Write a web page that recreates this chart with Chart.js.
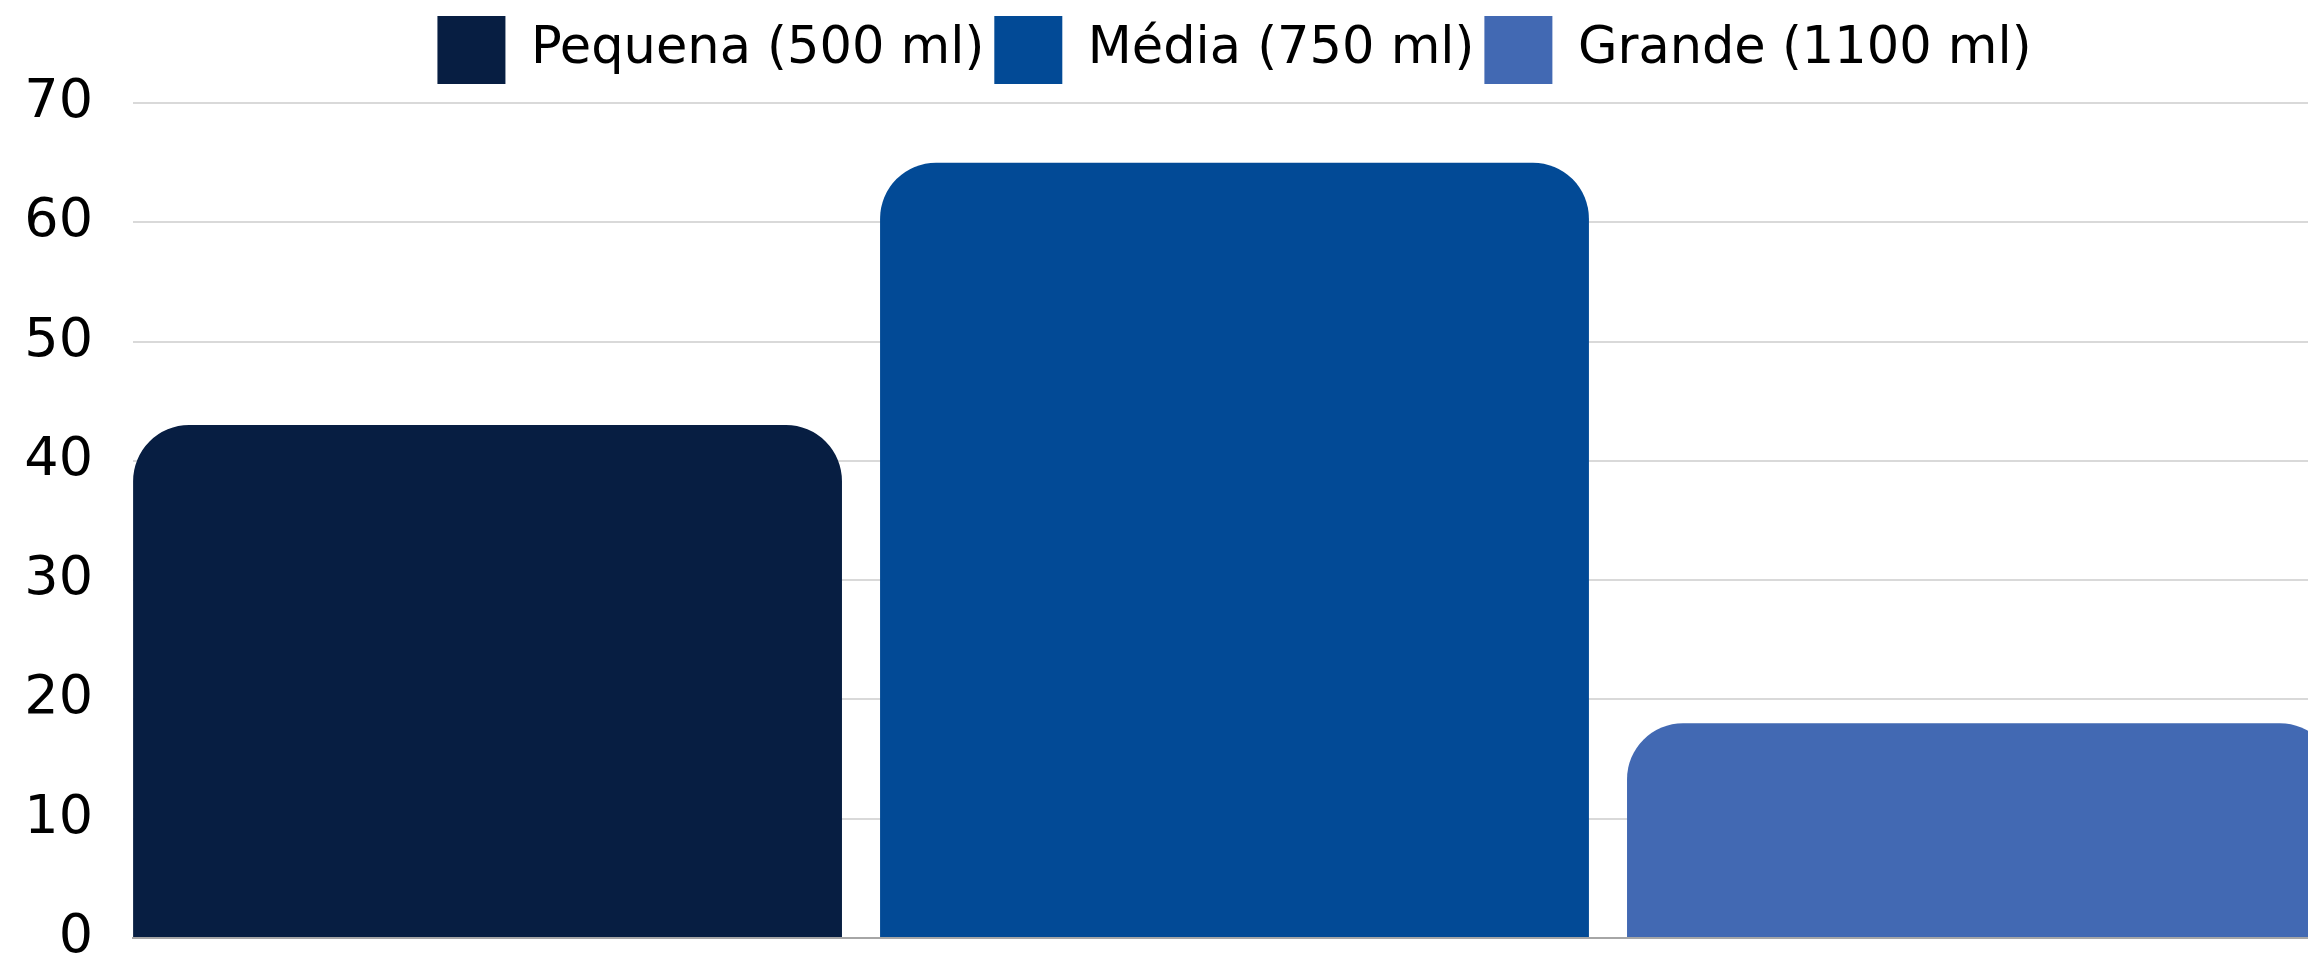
<!DOCTYPE html>
<html>
<head>
<meta charset="utf-8">
<script src="https://cdn.jsdelivr.net/npm/chart.js@4"></script>
<style>
  html, body { margin: 0; padding: 0; background: #fff; overflow: hidden; }
  #wrap { position: relative; width: 2336px; height: 960px; }
</style>
</head>
<body>
<div id="wrap"><canvas id="c"></canvas></div>
<script>
const categories = [''];
const seriesNames = ['Pequena (500 ml)', 'Média (750 ml)', 'Grande (1100 ml)'];
const pequena = [43];
const media = [65];
const grande = [18];
const seriesColors = ['#071E42', '#024A96', '#4269B3'];
const yTicks = [0, 10, 20, 30, 40, 50, 60, 70];

const FONT = 'DejaVu Sans';

const legendPlacement = {
  id: 'legendPlacement',
  beforeLayout(chart) {
    const lg = chart.legend;
    if (lg && !lg._fitWrapped) {
      const origFit = lg.fit.bind(lg);
      lg.fit = function () { origFit(); this.height = 103; };
      lg._fitWrapped = true;
    }
  },
  afterLayout(chart) {
    const lg = chart.legend;
    if (lg) {
      lg.left = chart.chartArea.left;
      lg.right = chart.chartArea.right;
      lg.width = lg.right - lg.left;
      lg.top += 6;
      lg.bottom += 6;
    }
  }
};

new Chart(document.getElementById('c'), {
  type: 'bar',
  data: {
    labels: categories,
    datasets: [pequena, media, grande].map((vals, i) => ({
      label: seriesNames[i],
      data: vals,
      backgroundColor: seriesColors[i],
      borderWidth: 0,
      borderRadius: { topLeft: 56, topRight: 56, bottomLeft: 0, bottomRight: 0 },
      borderSkipped: 'bottom',
      categoryPercentage: 1.0172,
      barPercentage: 0.949
    }))
  },
  options: {
    responsive: true,
    maintainAspectRatio: false,
    animation: false,
    layout: { padding: { left: 24, right: 0, top: 0, bottom: 22 } },
    plugins: {
      tooltip: { enabled: false },
      title: { display: false },
      legend: {
        position: 'top',
        align: 'center',
        labels: {
          boxWidth: 68,
          boxHeight: 68,
          padding: 10,
          color: '#000',
          font: { family: FONT, size: 51 }
        }
      }
    },
    scales: {
      x: {
        ticks: { display: false },
        grid: { display: false, drawTicks: false },
        border: { display: true, color: '#a6a6a6', width: 2 },
        afterFit(scale) { scale.height = 0; }
      },
      y: {
        min: 0,
        max: 70,
        afterBuildTicks(scale) { scale.ticks = yTicks.map(v => ({ value: v })); },
        afterFit(scale) {
          scale.width = 109;
          scale.paddingTop = 0;
          scale.paddingBottom = 0;
        },
        ticks: {
          padding: 40,
          color: '#000',
          font: { family: FONT, size: 54 }
        },
        grid: { color: '#d9d9d9', lineWidth: 2, drawTicks: false },
        border: { display: false }
      }
    }
  },
  plugins: [legendPlacement]
});
</script>
</body>
</html>
